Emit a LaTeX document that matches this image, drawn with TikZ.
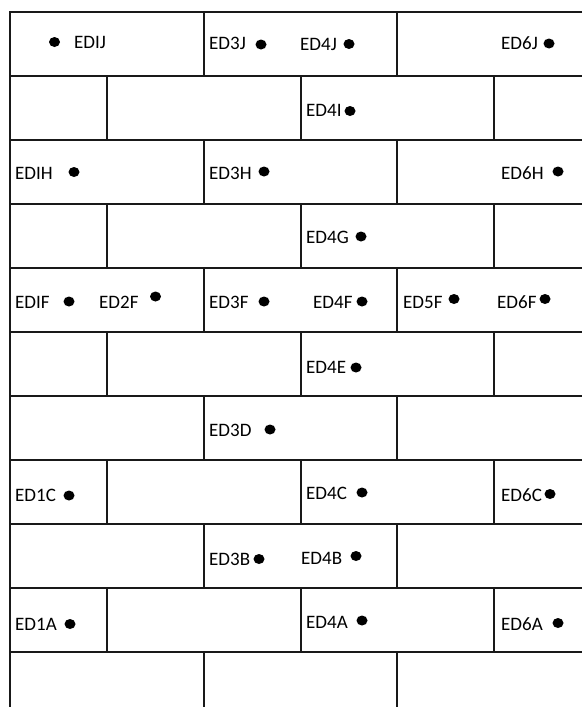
\documentclass[tikz,border=0pt]{standalone}
\usepackage{fontspec}
\setmainfont{Carlito}
\begin{document}
\begin{tikzpicture}[x=1pt,y=-1pt,
  wall/.style={line width=1.8pt,black!90},
  lab/.style={anchor=base west,inner sep=0pt,font=\fontsize{19}{21}\selectfont},
  spot/.style={fill=black}]

\useasboundingbox (0,0) rectangle (582,707);

% courses of the wall
\draw[wall] (582,12)--(10,12)--(10,707);
\draw[wall] (10,76)--(582,76);
\draw[wall] (10,140)--(582,140);
\draw[wall] (10,204)--(582,204);
\draw[wall] (10,268)--(582,268);
\draw[wall] (10,332)--(582,332);
\draw[wall] (10,396)--(582,396);
\draw[wall] (10,460)--(582,460);
\draw[wall] (10,524)--(582,524);
\draw[wall] (10,588)--(582,588);
\draw[wall] (10,652)--(582,652);

% joints
\draw[wall] (204,12)--(204,76) (397,12)--(397,76);
\draw[wall] (107,76)--(107,140) (301,76)--(301,140) (494,76)--(494,140);
\draw[wall] (204,140)--(204,204) (397,140)--(397,204);
\draw[wall] (107,204)--(107,268) (301,204)--(301,268) (494,204)--(494,268);
\draw[wall] (204,268)--(204,332) (397,268)--(397,332);
\draw[wall] (107,332)--(107,396) (301,332)--(301,396) (494,332)--(494,396);
\draw[wall] (204,396)--(204,460) (397,396)--(397,460);
\draw[wall] (107,460)--(107,524) (301,460)--(301,524) (494,460)--(494,524);
\draw[wall] (204,524)--(204,588) (397,524)--(397,588);
\draw[wall] (107,588)--(107,652) (301,588)--(301,652) (494,588)--(494,652);
\draw[wall] (204,652)--(204,707) (397,652)--(397,707);

% labels
\node[lab] (l1J) at (74,48){EDIJ};
\node[lab] (l3J) at (209,49){ED3J};
\node[lab] (l4J) at (300,50){ED4J};
\node[lab] (l6J) at (501,49){ED6J};
\node[lab] (l4I) at (306,116){ED4I};
\node[lab] (l1H) at (15,179){EDIH};
\node[lab] (l3H) at (209,179){ED3H};
\node[lab] (l6H) at (501,179){ED6H};
\node[lab] (l4G) at (306,243){ED4G};
\node[lab] (l1F) at (15,308){EDIF};
\node[lab] (l2F) at (99,308){ED2F};
\node[lab] (l3F) at (209,308){ED3F};
\node[lab] (l4F) at (313,308){ED4F};
\node[lab] (l5F) at (403,308){ED5F};
\node[lab] (l6F) at (497,308){ED6F};
\node[lab] (l4E) at (306,373){ED4E};
\node[lab] (l3D) at (209,436){ED3D};
\node[lab] (l1C) at (15,501.5){ED1C};
\node[lab] (l4C) at (306,499){ED4C};
\node[lab] (l6C) at (501,501.5){ED6C};
\node[lab] (l3B) at (209,565){ED3B};
\node[lab] (l4B) at (301,564){ED4B};
\node[lab] (l1A) at (15,630){ED1A};
\node[lab] (l4A) at (306,628){ED4A};
\node[lab] (l6A) at (501,630){ED6A};

% points
\fill[spot] (54.5,42) ellipse (5.5pt and 5pt);
\fill[spot] (261,44.5) ellipse (5.5pt and 5pt);
\fill[spot] (349,44) ellipse (5.5pt and 5pt);
\fill[spot] (549,43.5) ellipse (5.5pt and 5pt);
\fill[spot] (350,111) ellipse (5.5pt and 5pt);
\fill[spot] (74,172) ellipse (5.5pt and 5pt);
\fill[spot] (264,171.5) ellipse (5.5pt and 5pt);
\fill[spot] (558,171.5) ellipse (5.5pt and 5pt);
\fill[spot] (361,236.5) ellipse (5.5pt and 5pt);
\fill[spot] (69,301.5) ellipse (5.5pt and 5pt);
\fill[spot] (155.5,296.5) ellipse (5.5pt and 5pt);
\fill[spot] (264,301.5) ellipse (5.5pt and 5pt);
\fill[spot] (362,301.5) ellipse (5.5pt and 5pt);
\fill[spot] (454,299) ellipse (5.5pt and 5pt);
\fill[spot] (545,299) ellipse (5.5pt and 5pt);
\fill[spot] (356,367.5) ellipse (5.5pt and 5pt);
\fill[spot] (270,429.5) ellipse (5.5pt and 5pt);
\fill[spot] (69,495.5) ellipse (5.5pt and 5pt);
\fill[spot] (362,492.5) ellipse (5.5pt and 5pt);
\fill[spot] (550,494) ellipse (5.5pt and 5pt);
\fill[spot] (259,559) ellipse (5.5pt and 5pt);
\fill[spot] (356,556) ellipse (5.5pt and 5pt);
\fill[spot] (70,624) ellipse (5.5pt and 5pt);
\fill[spot] (362,620.5) ellipse (5.5pt and 5pt);
\fill[spot] (558,623) ellipse (5.5pt and 5pt);

\end{tikzpicture}
\end{document}
